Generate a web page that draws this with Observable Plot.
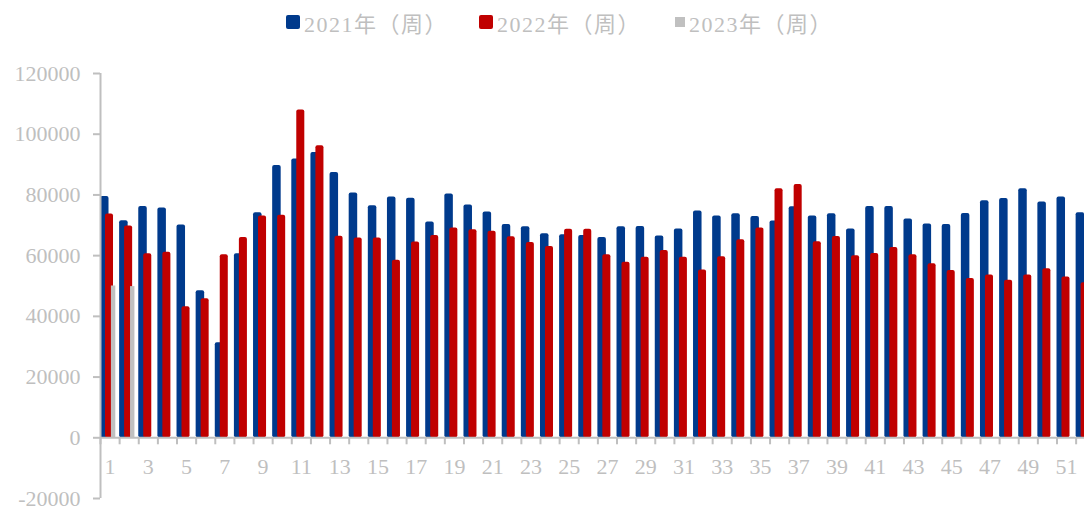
<!DOCTYPE html>
<html>
<head>
<meta charset="utf-8">
<script src="https://cdn.jsdelivr.net/npm/d3@7"></script>
<script src="https://cdn.jsdelivr.net/npm/@observablehq/plot@0.6"></script>
<style>
  html, body { margin: 0; padding: 0; background: #fff; }
  #legend { height: 45px; position: relative; font-family: "Liberation Serif", "Noto Sans CJK SC", serif; font-size: 22px; color: #bfbfbf; }
  .item { position: absolute; top: 9px; display: flex; align-items: center; height: 26px; white-space: nowrap; letter-spacing: 1.5px; }
  .sw { display: inline-block; margin-right: 4px; border-radius: 2px; }
</style>
</head>
<body>
<div id="legend"></div>
<div id="chart"></div>
<script>
// ---- data ----
const weeks = d3.range(1, 53);
const v2021 = [79500, 71500, 76200, 75700, 70100, 48400, 31300, 60600, 74100, 89700,
  91800, 94000, 87400, 80600, 76400, 79300, 78900, 71100, 80300, 76700,
  74400, 70300, 69500, 67200, 66900, 66600, 66000, 69500, 69600, 66500,
  68800, 74700, 73100, 73800, 72900, 71400, 76100, 73100, 73800, 68800,
  76200, 76200, 72100, 70400, 70300, 73900, 78100, 78800, 82000, 77700,
  79300, 74100];
const v2022 = [73700, 69800, 60600, 61100, 43200, 45800, 60300, 66000, 73100, 73300,
  108000, 96200, 66400, 65800, 65800, 58500, 64500, 66600, 69100, 68500,
  68000, 66200, 64300, 63000, 68700, 68700, 60300, 57800, 59500, 61700,
  59500, 55300, 59600, 65200, 69100, 82000, 83400, 64600, 66300, 60000,
  60700, 62700, 60300, 57300, 55100, 52500, 53600, 51900, 53600, 55700,
  53000, 51100];
const v2023 = [50000, 49800];
const seriesNames = ["2021年（周）", "2022年（周）", "2023年（周）"];
const seriesColors = ["#003a8c", "#c00000", "#c0c0c0"];
const yTicks = [-20000, 0, 20000, 40000, 60000, 80000, 100000, 120000];
const xLabels = weeks.filter(w => w % 2 === 1);

// ---- legend ----
const legend = document.getElementById("legend");
const legendPos = [[286, 14, 14], [479, 14, 14], [675, 10, 10]];
seriesNames.forEach((name, i) => {
  const it = document.createElement("div");
  it.className = "item";
  it.style.left = legendPos[i][0] + "px";
  const sw = document.createElement("span");
  sw.className = "sw";
  sw.style.width = legendPos[i][1] + "px";
  sw.style.height = legendPos[i][2] + "px";
  sw.style.background = seriesColors[i];
  if (i === 2) sw.style.borderRadius = "0";
  it.appendChild(sw);
  const tx = document.createElement("span");
  tx.textContent = name;
  it.appendChild(tx);
  legend.appendChild(it);
});

// ---- chart ----
const d21 = weeks.map((w, i) => ({week: w, value: v2021[i]}));
const d22 = weeks.map((w, i) => ({week: w, value: v2022[i]}));
const d23 = v2023.map((v, i) => ({week: weeks[i], value: v}));

const bandPx = 19.13;
const W = 1084, ML = 100;
const xMax = 0.5 + (W - ML) / bandPx;

const chart = Plot.plot({
  width: W,
  height: 461,
  marginLeft: ML,
  marginRight: 0,
  marginTop: 28,
  marginBottom: 8,
  style: {fontFamily: "'Liberation Serif', serif", fontSize: "22px", color: "#bfbfbf", background: "#fff"},
  x: {type: "linear", domain: [0.5, xMax], axis: null},
  y: {domain: [-20000, 120000], axis: null},
  marks: [
    Plot.rectY(d21, {x1: d => d.week - 0.5, x2: d => d.week - 0.5 + 0.445, y1: 0, y2: "value", fill: seriesColors[0], rx: 2, clip: true}),
    Plot.rectY(d22, {x1: d => d.week - 0.5 + 0.26, x2: d => d.week - 0.5 + 0.68, y1: 0, y2: "value", fill: seriesColors[1], rx: 2, clip: true}),
    Plot.rectY(d23, {x1: d => d.week - 0.5 + 0.57, x2: d => d.week - 0.5 + 0.8, y1: 0, y2: "value", fill: seriesColors[2], clip: true}),
    Plot.ruleY([0], {stroke: "#bfbfbf", strokeWidth: 2}),
    Plot.ruleX(weeks, {x: d => d - 0.5, y1: 0, y2: 0, insetBottom: -7, stroke: "#bfbfbf", strokeWidth: 2}),
    Plot.ruleX([0.5], {y1: -20000, y2: 120000, stroke: "#bfbfbf", strokeWidth: 2}),
    Plot.axisY(yTicks, {tickSize: 7, tickPadding: 13, tickFormat: d => String(d), stroke: "#bfbfbf", strokeWidth: 2, fill: "#bfbfbf", label: null}),
    Plot.text(xLabels, {x: d => d, y: 0, text: d => String(d), dy: 29, fill: "#bfbfbf", textAnchor: "middle"})
  ]
});
document.getElementById("chart").appendChild(chart);
</script>
</body>
</html>
